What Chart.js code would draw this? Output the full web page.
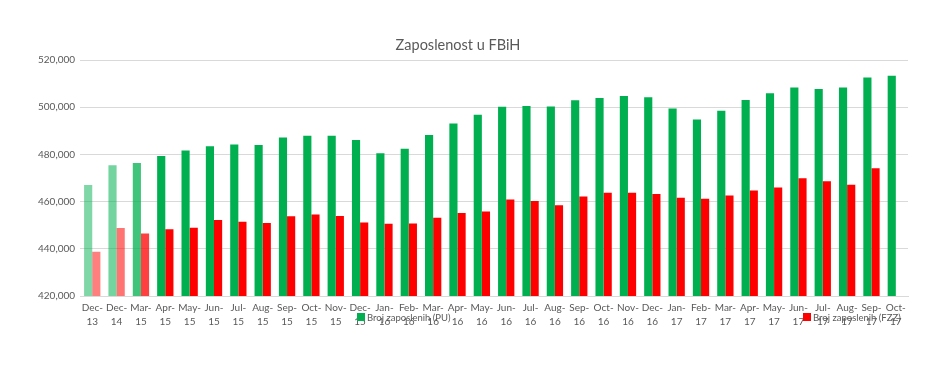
<!DOCTYPE html>
<html>
<head>
<meta charset="utf-8">
<script src="https://cdn.jsdelivr.net/npm/chart.js@4"></script>
<style>
  html, body { margin: 0; padding: 0; background: #fff; }
  #wrap { width: 938px; height: 376px; }
</style>
</head>
<body>
<div id="wrap"><canvas id="chart" width="938" height="376"></canvas></div>
<script>
// x categories (month-year)
const months = ["Dec", "Dec", "Mar", "Apr", "May", "Jun", "Jul", "Aug", "Sep", "Oct", "Nov", "Dec",
  "Jan", "Feb", "Mar", "Apr", "May", "Jun", "Jul", "Aug", "Sep", "Oct", "Nov", "Dec",
  "Jan", "Feb", "Mar", "Apr", "May", "Jun", "Jul", "Aug", "Sep", "Oct"];
const years = ["13", "14", "15", "15", "15", "15", "15", "15", "15", "15", "15", "15",
  "16", "16", "16", "16", "16", "16", "16", "16", "16", "16", "16", "16",
  "17", "17", "17", "17", "17", "17", "17", "17", "17", "17"];

// Broj zaposlenih (PU)
const puValues = [467000, 475400, 476400, 479300, 481700, 483500, 484200, 484000, 487200, 487900, 487900, 486100,
  480500, 482400, 488200, 493100, 496800, 500200, 500500, 500300, 502900, 503900, 504700, 504200,
  499400, 494800, 498500, 503000, 505900, 508300, 507700, 508300, 512600, 513300];

// Broj zaposlenih (FZZ)
const fzzValues = [438800, 448800, 446500, 448300, 448900, 452200, 451500, 450900, 453800, 454500, 453900, 451100,
  450600, 450700, 453200, 455200, 455800, 460900, 460300, 458500, 462200, 463700, 463800, 463200,
  461600, 461200, 462600, 464700, 466000, 469900, 468600, 467100, 474100, null];

const yTicks = [420000, 440000, 460000, 480000, 500000, 520000];

const labels = months.map((m, i) => [m + "-", years[i]]);

// first three bars are drawn faded
const fadeAlpha = [0.5, 0.55, 0.75];
const greenColors = puValues.map((v, i) => i < fadeAlpha.length ? `rgba(0,176,80,${fadeAlpha[i]})` : "#00b050");
const redColors = fzzValues.map((v, i) => i < fadeAlpha.length ? `rgba(255,0,0,${fadeAlpha[i]})` : "#ff0000");

const textColor = "#595959";
const fontFamily = "Lato, 'Open Sans', sans-serif";

// title sits a bit left of centre, legend sits on top of the tick labels, like in the original
const excelDecor = {
  id: "excelDecor",
  afterDraw(chart) {
    const ctx = chart.ctx;
    ctx.save();
    ctx.fillStyle = textColor;
    ctx.textAlign = "center";
    ctx.textBaseline = "middle";
    ctx.font = `14.5px ${fontFamily}`;
    ctx.fillText("Zaposlenost u FBiH", 458, 45);

    const items = [
      { text: "Broj zaposlenih (PU)", color: "#00b050", x: 357 },
      { text: "Broj zaposlenih (FZZ)", color: "#ff0000", x: 803 }
    ];
    ctx.font = `9.5px ${fontFamily}`;
    ctx.textAlign = "left";
    items.forEach(it => {
      ctx.fillStyle = it.color;
      ctx.fillRect(it.x, 313, 8, 8);
      ctx.fillStyle = textColor;
      ctx.fillText(it.text, it.x + 10, 318);
    });
    ctx.restore();
  }
};

new Chart(document.getElementById("chart").getContext("2d"), {
  type: "bar",
  data: {
    labels: labels,
    datasets: [
      {
        label: "Broj zaposlenih (PU)",
        data: puValues,
        backgroundColor: greenColors,
        categoryPercentage: 0.67,
        barPercentage: 1.0
      },
      {
        label: "Broj zaposlenih (FZZ)",
        data: fzzValues,
        backgroundColor: redColors,
        categoryPercentage: 0.67,
        barPercentage: 1.0
      }
    ]
  },
  options: {
    responsive: false,
    animation: false,
    layout: { padding: { top: 60, left: 33, right: 30, bottom: 42 } },
    plugins: {
      legend: { display: false },
      tooltip: { enabled: false },
      title: { display: false }
    },
    scales: {
      x: {
        grid: { display: false, drawTicks: false },
        border: { color: "#d9d9d9" },
        ticks: {
          color: textColor,
          font: { family: fontFamily, size: 10, lineHeight: 1.4 },
          maxRotation: 0,
          autoSkip: false,
          padding: 5
        }
      },
      y: {
        min: 420000,
        max: 520000,
        afterBuildTicks: (axis) => { axis.ticks = yTicks.map(v => ({ value: v })); },
        grid: { color: "#d9d9d9", drawTicks: false },
        border: { display: false },
        ticks: {
          color: textColor,
          font: { family: fontFamily, size: 10 },
          padding: 5,
          callback: (v) => v.toLocaleString("en-US")
        }
      }
    }
  },
  plugins: [excelDecor]
});
</script>
</body>
</html>
